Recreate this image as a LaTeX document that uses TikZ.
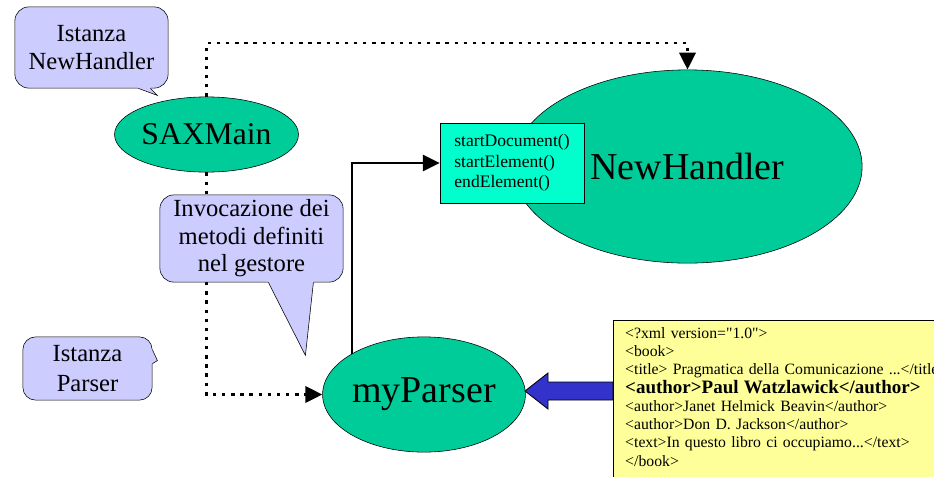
\documentclass[tikz,border=0pt]{standalone}
\usepackage{fontspec}
\setmainfont{Liberation Serif}
\newfontfamily\xmlfont{Liberation Serif}
\usetikzlibrary{arrows.meta,shapes.geometric,positioning}
\definecolor{verde}{HTML}{00CC99}
\definecolor{acqua}{HTML}{00FFCC}
\definecolor{lilla}{HTML}{CCCCFF}
\definecolor{giallo}{HTML}{FFFF99}
\definecolor{blu}{HTML}{3333CC}
\tikzset{>={Triangle[length=12pt,width=11.5pt]},
    ellisse/.style={ellipse, draw=black, fill=verde, inner sep=0pt},
    fumetto/.style={rectangle, rounded corners=10pt, draw=black, fill=lilla,
                    align=center, inner sep=0pt,
                    font=\fontsize{17.5}{19.5}\selectfont},
    metodi/.style={rectangle, draw=black, fill=acqua, align=left,
                   inner sep=0pt, font=\fontsize{12.5}{14.5}\selectfont},
    punti/.style={->, line width=2.1pt, dash pattern=on 2.4pt off 4.1pt},
    pil/.style={->, line width=1.4pt}}

\begin{document}
\begin{tikzpicture}[x=0.025cm, y=-0.025cm]
    \useasboundingbox (0,0) rectangle (934,476);

    % ellissi
    \node[ellisse, minimum width=4.33cm, minimum height=1.88cm,
          font=\fontsize{22.5}{26}\selectfont]
        (saxmain) at (206.5,134.5) {SAXMain};
    \node[ellisse, minimum width=8.73cm, minimum height=4.83cm,
          font=\fontsize{27}{30}\selectfont]
        (newhandler) at (687.5,166.5) {NewHandler};
    \node[ellisse, minimum width=5.05cm, minimum height=2.88cm,
          font=\fontsize{27}{30}\selectfont]
        (myparser) at (424,394.5) {myParser};

    % metodi del gestore
    \node[metodi, minimum width=3.6cm, minimum height=2cm]
        (metodi) at (512,163)
        {startDocument()\\ startElement()\\ endElement()};

    % documento xml
    \node[draw=black, fill=giallo, anchor=north west,
          minimum width=9cm, minimum height=4.5cm]
        (xmlbox) at (613,320) {};
    \node[anchor=north west, align=left, inner xsep=8.5pt, inner ysep=5pt,
          text width=12cm, font=\xmlfont\fontsize{11.2}{13}\selectfont]
        (xml) at (xmlbox.north west)
        {<?xml version="1.0">\\
         <book>\\
         <title> Pragmatica della Comunicazione ...</title\\
         {\fontsize{13.5}{14}\selectfont\bfseries <author>Paul Watzlawick</author>}\\
         <author>Janet Helmick Beavin</author>\\
         <author>Don D. Jackson</author>\\
         <text>In questo libro ci occupiamo...</text>\\
         </book>};

    % collegamenti
    \coordinate (alto) at (206.5,43);
    \draw[punti] (saxmain.north) -- (alto) -| (newhandler.north);
    \draw[punti] (saxmain.south) |- (myparser.west);
    \draw[pil] (myparser.north west) |- (metodi.west);

    % freccia blu dal documento
    \coordinate (punta) at (525,391);
    \draw[fill=blu, line width=0.6pt] (punta) -- ++(23,-18) -- ++(0,9)
        -- (xmlbox.west |- 0,382) -- (xmlbox.west |- 0,400)
        -- ++(-65,0) -- ++(0,9) -- cycle;

    % fumetti
    \node[fumetto, minimum width=3.83cm, minimum height=2.03cm]
        (nhnota) at (91.5,47.5) {Istanza\\ NewHandler};
    \fill[lilla] (nhnota.south east) ++(-31,-3) -- ++(1,3) -- ++(19,7)
        -- ++(-7,-7) -- ++(1,-3) -- cycle;
    \draw (nhnota.south east) ++(-30,0) -- ++(19,7) -- ++(-7,-7);

    \node[fumetto, minimum width=4.58cm, minimum height=2.18cm]
        (nota) at (251.5,238.5) {Invocazione dei\\ metodi definiti\\ nel gestore};
    \fill[lilla] (nota.south east) ++(-76,-3) -- ++(1,3) -- ++(37,73)
        -- ++(8,-73) -- ++(1,-3) -- cycle;
    \draw (nota.south east) ++(-75,0) -- ++(37,73) -- ++(8,-73);

    \node[fumetto, rounded corners=9pt, minimum width=3.23cm, minimum height=1.58cm,
          font=\fontsize{17.5}{21}\selectfont]
        (pnota) at (87.5,368.5) {Istanza\\ Parser};
    \fill[lilla] (pnota.north east) ++(-3,12) -- ++(3,1) -- ++(5,11)
        -- ++(-5,3) -- ++(-3,1) -- cycle;
    \draw (pnota.north east) ++(0,13) -- ++(5,11) -- ++(-5,3);
\end{tikzpicture}
\end{document}
